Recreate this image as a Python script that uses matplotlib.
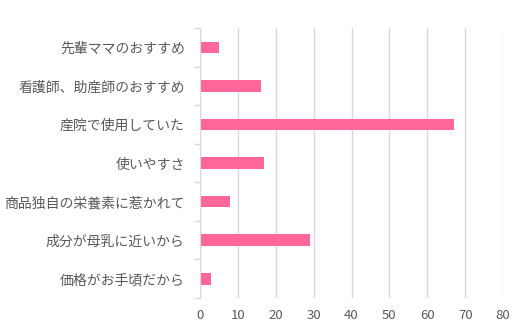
import matplotlib
matplotlib.use("Agg")
import matplotlib.pyplot as plt
import numpy as np

plt.rcParams['font.family'] = ['Noto Sans CJK JP', 'DejaVu Sans']

categories = ["先輩ママのおすすめ", "看護師、助産師のおすすめ", "産院で使用していた",
              "使いやすさ", "商品独自の栄養素に惹かれて", "成分が母乳に近いから", "価格がお手頃だから"]
values = [5, 16, 67, 17, 8, 29, 3]
xticks = [0, 10, 20, 30, 40, 50, 60, 70, 80]

fig = plt.figure(figsize=(5.19, 3.28), dpi=100)
ax = fig.add_axes([200/519, 1-298/328, 303/519, 270/328])

y = np.arange(len(categories))
ax.barh(y, values, height=0.3, color="#FF6699", zorder=3)
ax.set_ylim(len(categories)-0.5, -0.5)
ax.set_xlim(0, 80)
ax.set_xticks(xticks)
ax.set_xticklabels([str(t) for t in xticks])
ax.set_yticks(y)
ax.set_yticklabels(categories)
ax.set_yticks(np.arange(len(categories)+1)-0.5, minor=True)
ax.tick_params(axis='y', which='major', length=0, pad=11, labelsize=10, labelcolor="#595959")
ax.tick_params(axis='y', which='minor', length=4, color="#d9d9d9", width=1)
ax.tick_params(axis='x', length=0, pad=8, labelsize=9.5, labelcolor="#595959")
ax.grid(axis='x', color="#d9d9d9", linewidth=1, zorder=0)
for s in ['top', 'right', 'bottom']:
    ax.spines[s].set_visible(False)
ax.spines['left'].set_color("#d9d9d9")
ax.spines['left'].set_zorder(4)

fig.savefig("out.png", dpi=100)
